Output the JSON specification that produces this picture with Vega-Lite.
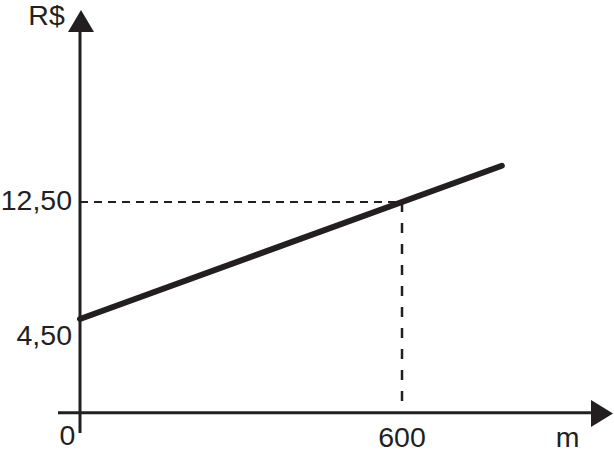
{
  "$schema": "https://vega.github.io/schema/vega-lite/v6.json",
  "width": 614,
  "height": 457,
  "padding": 0,
  "autosize": {"type": "fit", "contains": "padding"},
  "background": "white",
  "config": {"view": {"stroke": null}},
  "datasets": {
    "segments": [
      {"part": "xaxis", "x": -41, "y": -1.907, "x2": 952, "y2": -1.907},
      {"part": "yaxis", "x": 0, "y": -3.3, "x2": 0, "y2": 24.12},
      {"part": "guide_h", "x": 0, "y": 12.5, "x2": 600, "y2": 12.5},
      {"part": "guide_v", "x": 600, "y": 12.5, "x2": 600, "y2": -1.907}
    ],
    "price": [
      {"x": 0, "y": 4.5},
      {"x": 786, "y": 14.98}
    ],
    "arrows": [
      {"dir": "up", "x": 1.86, "y": 24.876},
      {"dir": "right", "x": 972.7, "y": -1.969}
    ],
    "labels": [
      {"side": "y", "text": "12,50", "x": -14.9, "y": 11.953},
      {"side": "y", "text": "4,50", "x": -14.9, "y": 2.722},
      {"side": "x", "text": "R$", "x": -62.4, "y": 24.63},
      {"side": "x", "text": "0", "x": -23.3, "y": -4.116},
      {"side": "x", "text": "600", "x": 600, "y": -4.253},
      {"side": "x", "text": "m", "x": 908.4, "y": -4.253}
    ]
  },
  "encoding": {
    "x": {"field": "x", "type": "quantitative", "axis": null,
          "scale": {"domain": [-149.07, 995.0], "nice": false, "zero": false}},
    "y": {"field": "y", "type": "quantitative", "axis": null,
          "scale": {"domain": [-4.936, 26.312], "nice": false, "zero": false}}
  },
  "layer": [
    {
      "data": {"name": "segments"},
      "transform": [{"filter": "datum.part == 'guide_h'"}],
      "mark": {"type": "rule", "color": "#231f20", "strokeWidth": 2, "strokeDash": [8, 6]},
      "encoding": {"x2": {"field": "x2"}, "y2": {"field": "y2"}}
    },
    {
      "data": {"name": "segments"},
      "transform": [{"filter": "datum.part == 'guide_v'"}],
      "mark": {"type": "rule", "color": "#231f20", "strokeWidth": 2.5, "strokeDash": [10, 11]},
      "encoding": {"x2": {"field": "x2"}, "y2": {"field": "y2"}}
    },
    {
      "data": {"name": "segments"},
      "transform": [{"filter": "datum.part == 'xaxis' || datum.part == 'yaxis'"}],
      "mark": {"type": "rule", "color": "#231f20", "strokeWidth": 3},
      "encoding": {"x2": {"field": "x2"}, "y2": {"field": "y2"}}
    },
    {
      "data": {"name": "price"},
      "mark": {"type": "line", "color": "#231f20", "strokeWidth": 6, "strokeCap": "round"},
      "encoding": {}
    },
    {
      "data": {"name": "arrows"},
      "transform": [{"filter": "datum.dir == 'up'"}],
      "mark": {"type": "point", "shape": "M-1,0.846L1,0.846L0,-0.846Z", "size": 676,
               "filled": true, "opacity": 1, "color": "#231f20"},
      "encoding": {}
    },
    {
      "data": {"name": "arrows"},
      "transform": [{"filter": "datum.dir == 'right'"}],
      "mark": {"type": "point", "shape": "M-0.815,-1L-0.815,1L0.815,0Z", "size": 729,
               "filled": true, "opacity": 1, "color": "#231f20"},
      "encoding": {}
    },
    {
      "data": {"name": "labels"},
      "transform": [{"filter": "datum.side == 'y'"}],
      "mark": {"type": "text", "align": "right", "baseline": "alphabetic",
               "font": "Liberation Sans", "fontSize": 28.5, "color": "#231f20"},
      "encoding": {"text": {"field": "text"}}
    },
    {
      "data": {"name": "labels"},
      "transform": [{"filter": "datum.side == 'x'"}],
      "mark": {"type": "text", "align": "center", "baseline": "alphabetic",
               "font": "Liberation Sans", "fontSize": 28.5, "color": "#231f20"},
      "encoding": {"text": {"field": "text"}}
    }
  ]
}
